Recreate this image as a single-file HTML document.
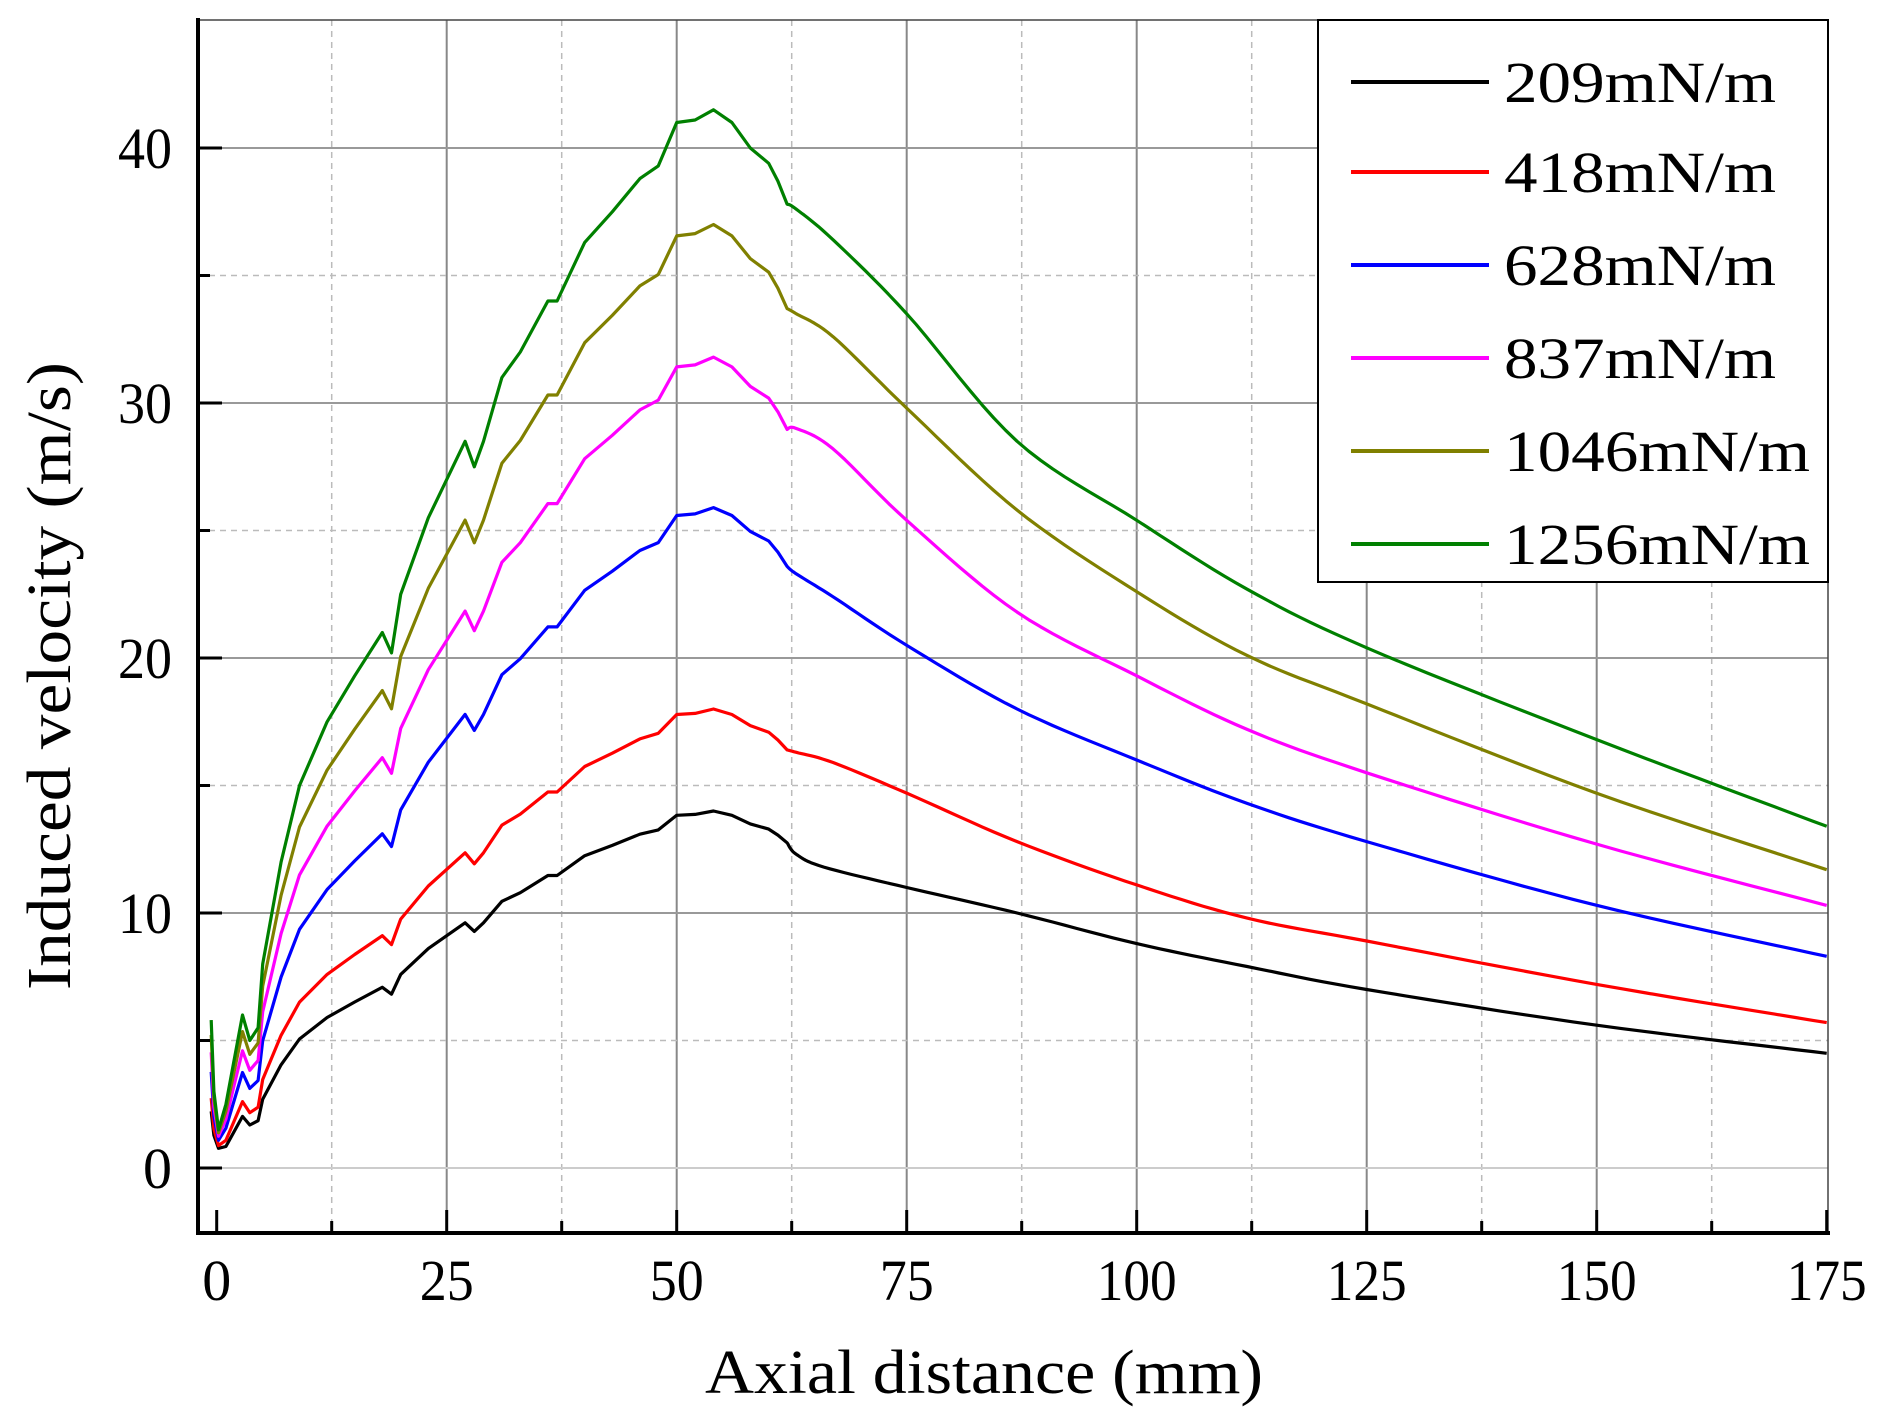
<!DOCTYPE html>
<html><head><meta charset="utf-8"><style>
html,body{margin:0;padding:0;background:#fff;}
svg{display:block;}
text{font-family:"Liberation Serif",serif;fill:#000;}
</style></head><body>
<svg id="s" width="1891" height="1423" viewBox="0 0 1891 1423" xmlns="http://www.w3.org/2000/svg">
<g id="grid"></g>
<g id="series" fill="none" stroke-width="3.2" stroke-linejoin="round"></g>
<g id="axes"></g>
<rect x="1318" y="20" width="510" height="562" fill="#fff" stroke="#000" stroke-width="2"/>
<g id="leg"></g>
<g font-size="58">
<text x="216.7" y="1300" text-anchor="middle">0</text>
<text x="446.7" y="1300" text-anchor="middle" textLength="54" lengthAdjust="spacingAndGlyphs">25</text>
<text x="676.7" y="1300" text-anchor="middle" textLength="54" lengthAdjust="spacingAndGlyphs">50</text>
<text x="906.7" y="1300" text-anchor="middle" textLength="54" lengthAdjust="spacingAndGlyphs">75</text>
<text x="1136.7" y="1300" text-anchor="middle" textLength="80" lengthAdjust="spacingAndGlyphs">100</text>
<text x="1366.7" y="1300" text-anchor="middle" textLength="80" lengthAdjust="spacingAndGlyphs">125</text>
<text x="1596.7" y="1300" text-anchor="middle" textLength="80" lengthAdjust="spacingAndGlyphs">150</text>
<text x="1826.7" y="1300" text-anchor="middle" textLength="80" lengthAdjust="spacingAndGlyphs">175</text>
<text x="172" y="1188" text-anchor="end">0</text>
<text x="172" y="933" text-anchor="end" textLength="54" lengthAdjust="spacingAndGlyphs">10</text>
<text x="172" y="678" text-anchor="end" textLength="54" lengthAdjust="spacingAndGlyphs">20</text>
<text x="172" y="423" text-anchor="end" textLength="54" lengthAdjust="spacingAndGlyphs">30</text>
<text x="172" y="168" text-anchor="end" textLength="54" lengthAdjust="spacingAndGlyphs">40</text>
</g>
<text x="984" y="1393" text-anchor="middle" font-size="62" textLength="558" lengthAdjust="spacingAndGlyphs">Axial distance (mm)</text>
<text transform="translate(70,676) rotate(-90)" text-anchor="middle" font-size="62" textLength="628" lengthAdjust="spacingAndGlyphs">Induced velocity (m/s)</text>
</svg>
<script>
var NS="http://www.w3.org/2000/svg";
function X(v){return 216.7+v*9.2;}
function Y(v){return 1168-v*25.5;}
function el(p,t,a){var e=document.createElementNS(NS,t);for(var k in a)e.setAttribute(k,a[k]);p.appendChild(e);return e;}
var g=document.getElementById('grid');
for(var i=1;i<=13;i++){var xv=i*12.5;var maj=i%2==0;el(g,'line',{x1:X(xv),x2:X(xv),y1:20,y2:1233,stroke:maj?'#888':'#bbb','stroke-width':maj?2:1.5,'stroke-dasharray':maj?'none':'6,5'});}
for(var j=1;j<=8;j++){var yv=j*5;var maj2=j%2==0;el(g,'line',{x1:198,x2:1828,y1:Y(yv),y2:Y(yv),stroke:maj2?'#999':'#bbb','stroke-width':maj2?2:1.5,'stroke-dasharray':maj2?'none':'6,5'});}
el(g,'line',{x1:198,x2:1828,y1:Y(0),y2:Y(0),stroke:'#ccc','stroke-width':2});
var a=document.getElementById('axes');
el(a,'line',{x1:198,x2:1828,y1:20,y2:20,stroke:'#444','stroke-width':1.5});
el(a,'line',{x1:1828,x2:1828,y1:20,y2:1233,stroke:'#444','stroke-width':1.5});
el(a,'line',{x1:198,x2:198,y1:18,y2:1235,stroke:'#000','stroke-width':4});
el(a,'line',{x1:196,x2:1830,y1:1233,y2:1233,stroke:'#000','stroke-width':4});
for(var i=0;i<=14;i++){var xv=i*12.5;el(a,'line',{x1:X(xv),x2:X(xv),y1:1233,y2:i%2==0?1210:1221,stroke:'#000','stroke-width':3});}
for(var j=0;j<=8;j++){el(a,'line',{x1:198,x2:j%2==0?222:210,y1:Y(j*5),y2:Y(j*5),stroke:'#000','stroke-width':3});}
var G=[[-0.6,5.8],[-0.3,3],[0.2,1.5],[1,2.5],[2.8,6],[3.6,5],[4.5,5.5],[5,8],[7,12],[9,15],[12,17.5],[15,19.3],[18,21],[19,20.2],[20,22.5],[23,25.5],[27,28.5],[28,27.5],[29,28.5],[31,31],[33,32],[36,34],[37,34],[40,36.3],[43,37.5],[46,38.8],[48,39.3],[50,41],[52,41.1],[54,41.5],[56,41],[58,40],[60,39.4],[61,38.7],[62,37.8]];
var S=[
 {c:'#000',p:14,t:[[63,12.3],[66,11.8],[75,11],[87,10],[100,8.8],[112,7.9],[125,7],[150,5.6],[175,4.5]]},
 {c:'#f00',p:18,t:[[63,16.3],[67,15.9],[75,14.7],[87,12.8],[100,11.1],[112,9.8],[125,8.9],[150,7.2],[175,5.7]]},
 {c:'#00f',p:25.9,t:[[63,23.3],[67,22.4],[75,20.5],[87,18],[100,16],[112,14.3],[125,12.8],[150,10.3],[175,8.3]]},
 {c:'#f0f',p:31.8,t:[[63,29],[67,28.2],[75,25.4],[87,21.8],[100,19.3],[112,17.2],[125,15.5],[150,12.7],[175,10.3]]},
 {c:'#808000',p:37,t:[[63,33.5],[67,32.6],[75,29.8],[87,25.8],[100,22.6],[112,20.1],[125,18.2],[150,14.7],[175,11.7]]},
 {c:'#008000',p:41.5,t:[[63,37.6],[67,36.4],[75,33.5],[87,28.5],[100,25.4],[112,22.7],[125,20.4],[150,16.8],[175,13.4]]}
];
var sg=document.getElementById('series');
S.forEach(function(s){
 var k=s.p/41.5;
 var pts=G.map(function(q){return [q[0],q[1]*k+(q[0]<1?0.4*(1-k):0)];});
 var d='';
 pts.forEach(function(q,i){d+=(i?'L':'M')+X(q[0]).toFixed(1)+','+Y(q[1]).toFixed(1);});
 var t=[pts[pts.length-1]].concat(s.t);
 for(var i=0;i<t.length-1;i++){
  var p0=t[Math.max(0,i-1)],p1=t[i],p2=t[i+1],p3=t[Math.min(t.length-1,i+2)];
  for(var u=0.1;u<=1.001;u+=0.1){
   var u2=u*u,u3=u2*u;
   var xx=0.5*((2*p1[0])+(-p0[0]+p2[0])*u+(2*p0[0]-5*p1[0]+4*p2[0]-p3[0])*u2+(-p0[0]+3*p1[0]-3*p2[0]+p3[0])*u3);
   var yy=0.5*((2*p1[1])+(-p0[1]+p2[1])*u+(2*p0[1]-5*p1[1]+4*p2[1]-p3[1])*u2+(-p0[1]+3*p1[1]-3*p2[1]+p3[1])*u3);
   d+='L'+X(xx).toFixed(1)+','+Y(yy).toFixed(1);
  }
 }
 el(sg,'path',{d:d,stroke:s.c});
});
var lg=document.getElementById('leg');
var names=['209mN/m','418mN/m','628mN/m','837mN/m','1046mN/m','1256mN/m'];
var ys=[82,172,265,358,451,544];
S.forEach(function(s,i){
 el(lg,'line',{x1:1351,x2:1489,y1:ys[i],y2:ys[i],stroke:s.c,'stroke-width':4});
 var tt=el(lg,'text',{x:1504,y:ys[i]+20,'font-size':58,textLength:i>=4?306:272,lengthAdjust:'spacingAndGlyphs'});
 tt.textContent=names[i];
});
</script>
</body></html>
